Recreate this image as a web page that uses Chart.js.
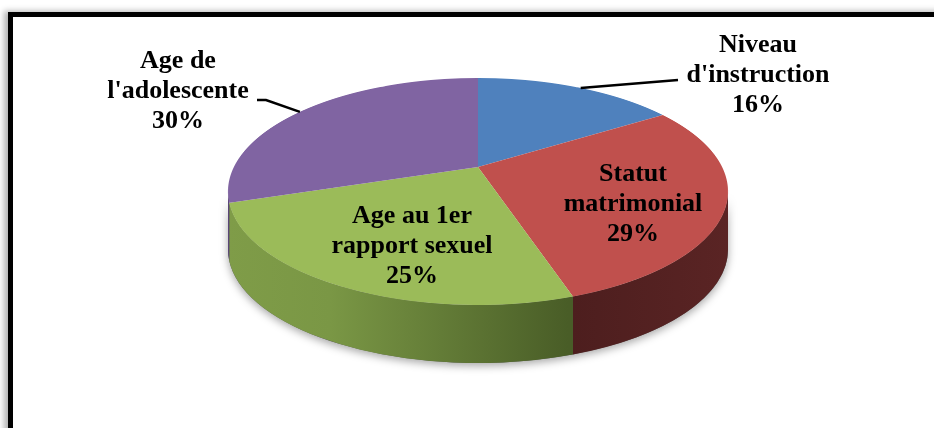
<!DOCTYPE html>
<html>
<head>
<meta charset="utf-8">
<script src="https://cdn.jsdelivr.net/npm/chart.js@4/dist/chart.umd.min.js"></script>
<style>
    html, body { margin: 0; padding: 0; background: #fff; overflow: hidden; }
    #wrap { position: relative; width: 934px; height: 428px; }
    #frame {
        position: absolute; left: 8px; top: 12px; width: 1000px; height: 1000px;
        border: 5px solid #000; box-shadow: -4px -1px 6px rgba(0, 0, 0, 0.3);
    }
    canvas { position: absolute; left: 0; top: 0; }
</style>
</head>
<body>
<div id="wrap">
    <div id="frame"></div>
    <canvas id="pieChart" width="934" height="428"></canvas>
</div>
<script>
// ==========================
// Données
// ==========================
const categories = ["Niveau d'instruction", "Statut matrimonial", "Age au 1er rapport sexuel", "Age de l'adolescente"];
const labelLines = [["Niveau", "d'instruction"], ["Statut", "matrimonial"], ["Age au 1er", "rapport sexuel"], ["Age de", "l'adolescente"]];
const percentages = [16, 29, 25, 30];
const topColors = ['#4F81BD', '#C0504D', '#9BBB59', '#8064A2'];

// ==========================
// Mise en page (style) : camembert vu en perspective
// ==========================
const PIE_CX = 478;      // axe vertical du camembert
const PIE_TOP = 78;      // bord arrière du dessus
const PIE_BOTTOM = 305;  // bord avant du dessus
const PIE_RX = 250;      // demi-largeur
const PIE_HUB_Y = 167;   // centre (point de rencontre des parts)
const DEPTH = 58;        // épaisseur
const FONT = 'bold 26px "Liberation Serif", "Times New Roman", serif';
const LINE_H = 30;
const labelPos = [
    { x: 758, y: 45, leader: { frac: 0.52, pts: [[678, 80]] } },
    { x: 633, y: 174 },
    { x: 412, y: 216 },
    { x: 178, y: 61, leader: { frac: 0.49, pts: [[266, 100], [257, 100]] } }
];

// constantes de l'homographie (disque incliné)
const hp = PIE_HUB_Y - PIE_TOP, hq = PIE_BOTTOM - PIE_HUB_Y;
const PC = (hp - hq) / (hp + hq);
const PB = hp * (1 - PC);
const PA = PIE_RX * Math.sqrt(1 - PC * PC);
const ELL_CY = (PIE_TOP + PIE_BOTTOM) / 2;
const ELL_RY = (PIE_BOTTOM - PIE_TOP) / 2;

function project(u, v) {
    const s = 1 / (1 + PC * v);
    return [PIE_CX + PA * u * s, PIE_HUB_Y + PB * v * s];
}
function rimParam(theta) {
    const [X, Y] = project(Math.cos(theta), Math.sin(theta));
    return Math.atan2((Y - ELL_CY) / ELL_RY, (X - PIE_CX) / PIE_RX);
}

function sideFill(ctx, i) {
    if (i === 2) {
        const g = ctx.createLinearGradient(PIE_CX - PIE_RX, 0, PIE_CX + 90, 0);
        g.addColorStop(0, '#7f9c48');
        g.addColorStop(0.3, '#7a9745');
        g.addColorStop(1, '#495d27');
        return g;
    }
    if (i === 1) {
        const g = ctx.createLinearGradient(PIE_CX + 95, 0, PIE_CX + PIE_RX, 0);
        g.addColorStop(0, '#4d1e1e');
        g.addColorStop(1, '#5a2424');
        return g;
    }
    return i === 3 ? '#5a4677' : '#2f4d72';
}

const pie3d = {
    id: 'pie3d',
    beforeDatasetsDraw(chart) {
        const ctx = chart.ctx;
        const arcs = chart.getDatasetMeta(0).data;
        const { x, y, outerRadius: r } = arcs[0];

        // ombre sous la face avant
        ctx.save();
        ctx.shadowColor = 'rgba(0,0,0,0.35)';
        ctx.shadowBlur = 9;
        ctx.shadowOffsetY = 3;
        ctx.beginPath();
        ctx.ellipse(PIE_CX, ELL_CY, PIE_RX, ELL_RY, 0, 0, Math.PI);
        ctx.ellipse(PIE_CX, ELL_CY + DEPTH, PIE_RX, ELL_RY, 0, Math.PI, 0, true);
        ctx.closePath();
        ctx.fillStyle = '#555';
        ctx.fill();
        ctx.restore();

        // faces latérales
        arcs.forEach((arc, i) => {
            let ps = rimParam(arc.startAngle);
            let pe = rimParam(arc.endAngle);
            while (pe <= ps) pe += 2 * Math.PI;
            [0, 2 * Math.PI].forEach(off => {
                const a = Math.max(ps, off), b = Math.min(pe, off + Math.PI);
                if (b <= a) return;
                ctx.beginPath();
                ctx.ellipse(PIE_CX, ELL_CY, PIE_RX, ELL_RY, 0, a, b);
                ctx.ellipse(PIE_CX, ELL_CY + DEPTH, PIE_RX, ELL_RY, 0, b, a, true);
                ctx.closePath();
                ctx.fillStyle = sideFill(ctx, i);
                ctx.fill();
            });
        });

        // dessus : dessiné bande par bande avec la perspective
        for (let ys = PIE_TOP - 2; ys < PIE_BOTTOM + 2; ys++) {
            const ym = ys + 0.5;
            const dy = ym - PIE_HUB_Y;
            const vm = dy / (PB - PC * dy);
            const sm = 1 / (1 + PC * vm);
            const A = PA * sm / r;
            const D = PB * sm * sm / r;
            ctx.save();
            ctx.setTransform(1, 0, 0, 1, 0, 0);
            ctx.beginPath();
            ctx.rect(0, ys, chart.width, 1);
            ctx.clip();
            ctx.setTransform(A, 0, 0, D, PIE_CX - A * x, ym - D * (y + vm * r));
            arcs.forEach(arc => arc.draw(ctx));
            ctx.restore();
        }
        return false;
    }
};

// Étiquettes et lignes de rappel
const labelsPlugin = {
    id: 'labels',
    afterDraw(chart) {
        const ctx = chart.ctx;
        const arcs = chart.getDatasetMeta(0).data;
        ctx.save();
        ctx.font = FONT;
        ctx.fillStyle = '#000';
        ctx.textAlign = 'center';
        ctx.textBaseline = 'middle';
        labelPos.forEach((p, i) => {
            const lines = labelLines[i].concat([percentages[i] + '%']);
            lines.forEach((t, k) => ctx.fillText(t, p.x, p.y + k * LINE_H));
            if (p.leader) {
                const arc = arcs[i];
                const ang = arc.startAngle + p.leader.frac * (arc.endAngle - arc.startAngle);
                const [sx, sy] = project(Math.cos(ang), Math.sin(ang));
                ctx.beginPath();
                ctx.moveTo(sx, sy);
                p.leader.pts.forEach(pt => ctx.lineTo(pt[0], pt[1]));
                ctx.lineWidth = 2.5;
                ctx.strokeStyle = '#000';
                ctx.stroke();
            }
        });
        ctx.restore();
    }
};

document.addEventListener('DOMContentLoaded', () => {
    const ctx = document.getElementById('pieChart').getContext('2d');
    new Chart(ctx, {
        type: 'pie',
        data: {
            labels: categories,
            datasets: [{
                data: percentages,
                backgroundColor: topColors,
                borderWidth: 0
            }]
        },
        options: {
            responsive: false,
            animation: false,
            events: [],
            layout: { padding: { left: 22, bottom: 88 } },
            plugins: { legend: { display: false }, tooltip: { enabled: false } }
        },
        plugins: [pie3d, labelsPlugin]
    });
});
</script>
</body>
</html>
